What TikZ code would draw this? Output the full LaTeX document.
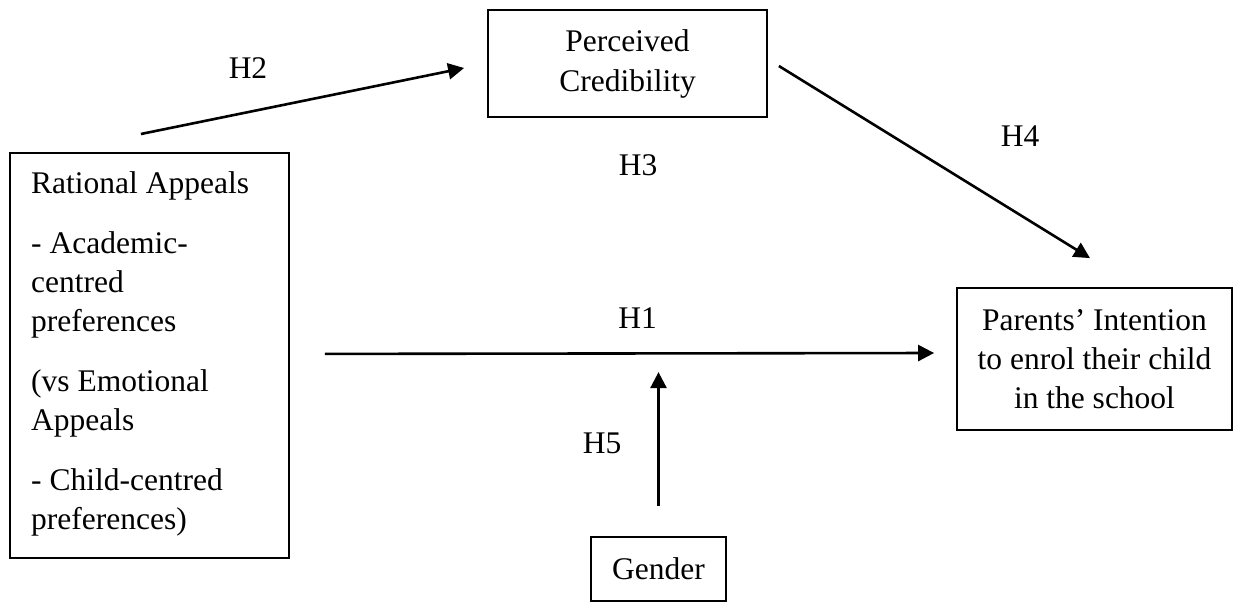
\documentclass[tikz,border=0pt]{standalone}
\usepackage{fontspec}
\setmainfont{Liberation Serif}
\usetikzlibrary{arrows.meta}
\begin{document}
\begin{tikzpicture}[x=1pt,y=-1pt,
  every node/.style={font=\fontsize{31.5}{39}\selectfont},
  box/.style={draw, line width=1.8pt, inner sep=0pt, align=center},
  lbl/.style={anchor=base, inner sep=0pt},
  conn/.style={line width=2.6pt, -{Triangle[length=16pt,width=16pt]}}]
\useasboundingbox (0,0) rectangle (1233,603);
% boxes
\node[box, minimum width=279pt, minimum height=405pt, anchor=north west] (rational) at (9,152) {};
\node[anchor=north west, inner sep=0pt, align=left] (rtext) at (31,171)
  {Rational Appeals\\[21pt]
   - Academic-\\ centred\\ preferences\\[21pt]
   (vs Emotional\\ Appeals\\[21pt]
   - Child-centred\\ preferences)};
\node[box, minimum width=279pt, minimum height=107pt] (perceived) at (627.5,63.5)
  {Perceived\\[1pt] Credibility};
\node[box, minimum width=275pt, minimum height=142pt] (parents) at (1094.5,359)
  {Parents’ Intention\\ to enrol their child\\ in the school};
\node[box, minimum width=135pt, minimum height=64pt] (gender) at (658.5,569) {Gender};
% connectors
\draw[conn] ([shift={(-8.5,-18)}]rational.north) -- ([shift={(-23,4.5)}]perceived.west);
\draw[conn] ([shift={(11,2.5)}]perceived.east) -- ([shift={(-4.5,-29)}]parents.north);
\draw[conn] ([shift={(35,-1.5)}]rational.east) -- ([shift={(-22,-6)}]parents.west);
\draw[conn] ([shift={(0,-30)}]gender.north) -- ([shift={(0,-164)}]gender.north);
% labels
\node[lbl] (h2) at (248,78) {H2};
\node[lbl] (h3) at (638,175) {H3};
\node[lbl] (h4) at (1020,146) {H4};
\node[lbl] (h1) at (637.5,328) {H1};
\node[lbl] (h5) at (602,453) {H5};
\end{tikzpicture}
\end{document}
